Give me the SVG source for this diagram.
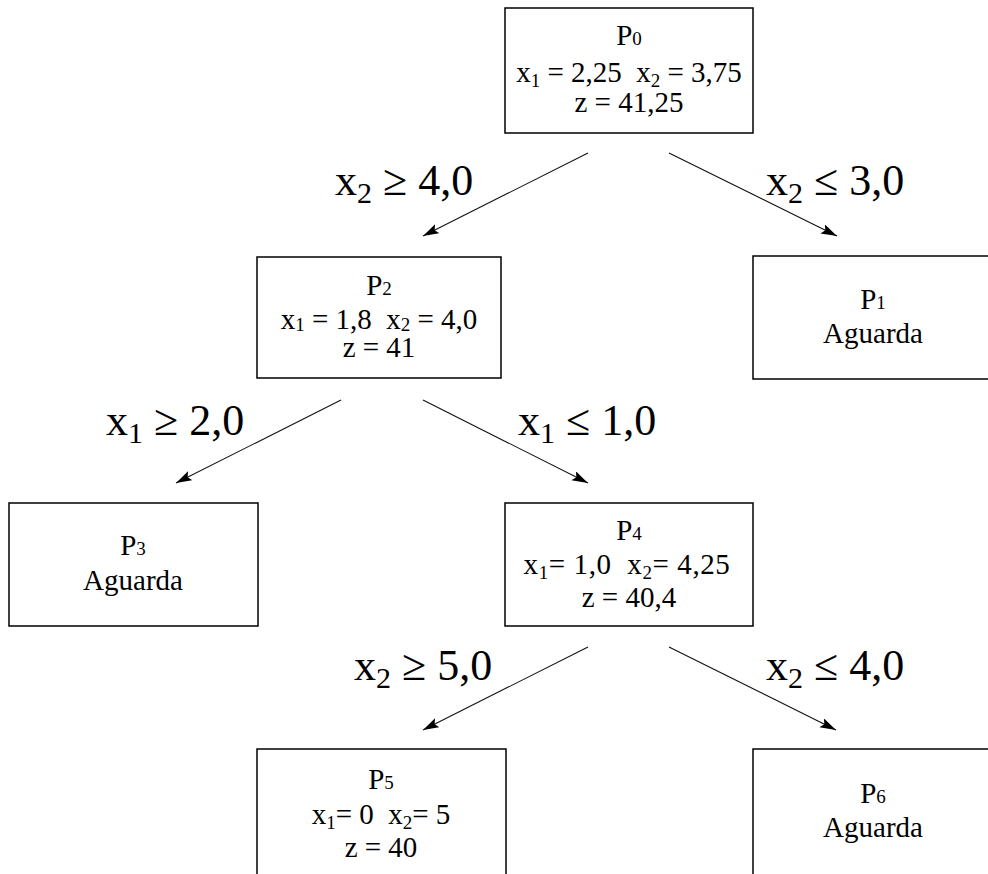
<svg xmlns="http://www.w3.org/2000/svg" width="988" height="874" viewBox="0 0 988 874">
<style>
.nd rect{fill:#fff;stroke:#000;stroke-width:1.5}
</style>
<defs>
<marker id="ah" markerUnits="userSpaceOnUse" markerWidth="18" markerHeight="12" refX="16" refY="5" orient="auto">
<path d="M0,0 L16,5 L0,10 L3,5 Z" fill="#000"/>
</marker>
</defs>
<g id="connectors" stroke="#111" stroke-width="1.1" marker-end="url(#ah)">
<line x1="588" y1="153" x2="423" y2="236"/>
<line x1="669" y1="153" x2="837" y2="236"/>
<line x1="341" y1="400" x2="176" y2="483"/>
<line x1="423" y1="400" x2="588" y2="483"/>
<line x1="588" y1="647" x2="423" y2="730"/>
<line x1="669" y1="647" x2="836" y2="730"/>
</g>
<g id="labels" font-family="Liberation Serif, serif" font-size="44" fill="#000">
<text x="335" y="195">x<tspan font-size="30" dy="8">2</tspan><tspan dy="-8"> ≥ 4,0</tspan></text>
<text x="766" y="195">x<tspan font-size="30" dy="8">2</tspan><tspan dy="-8"> ≤ 3,0</tspan></text>
<text x="106" y="435">x<tspan font-size="30" dy="8">1</tspan><tspan dy="-8"> ≥ 2,0</tspan></text>
<text x="518" y="435">x<tspan font-size="30" dy="8">1</tspan><tspan dy="-8"> ≤ 1,0</tspan></text>
<text x="354" y="680">x<tspan font-size="30" dy="8">2</tspan><tspan dy="-8"> ≥ 5,0</tspan></text>
<text x="766" y="680">x<tspan font-size="30" dy="8">2</tspan><tspan dy="-8"> ≤ 4,0</tspan></text>
</g>
<g id="nodes" class="nd" font-family="Liberation Serif, serif" font-size="29" text-anchor="middle" fill="#000">
<g id="P0">
<rect x="505" y="8" width="248" height="125"/>
<text x="629" y="45">P<tspan font-size="19">0</tspan></text>
<text x="629" y="82">x<tspan font-size="19" dy="5">1</tspan><tspan dy="-5"> = 2,25 &#160;x</tspan><tspan font-size="19" dy="5">2</tspan><tspan dy="-5"> = 3,75</tspan></text>
<text x="629" y="112">z = 41,25</text>
</g>
<g id="P2">
<rect x="257" y="257" width="244" height="121"/>
<text x="379" y="295">P<tspan font-size="19">2</tspan></text>
<text x="379" y="329">x<tspan font-size="19" dy="2">1</tspan><tspan dy="-2"> = 1,8 &#160;x</tspan><tspan font-size="19" dy="2">2</tspan><tspan dy="-2"> = 4,0</tspan></text>
<text x="379" y="357">z = 41</text>
</g>
<g id="P1">
<rect x="753" y="256" width="240" height="123"/>
<text x="873" y="309">P<tspan font-size="19">1</tspan></text>
<text x="873" y="343">Aguarda</text>
</g>
<g id="P3">
<rect x="9" y="503" width="249" height="123"/>
<text x="133" y="555">P<tspan font-size="19">3</tspan></text>
<text x="133" y="590">Aguarda</text>
</g>
<g id="P4">
<rect x="505" y="503" width="248" height="123"/>
<text x="629" y="540">P<tspan font-size="19">4</tspan></text>
<text x="627" y="574" letter-spacing="0.6">x<tspan font-size="19" dy="5">1</tspan><tspan dy="-5">= 1,0 &#160;x</tspan><tspan font-size="19" dy="5">2</tspan><tspan dy="-5">= 4,25</tspan></text>
<text x="629" y="607">z = 40,4</text>
</g>
<g id="P5">
<rect x="257" y="749" width="249" height="140"/>
<text x="381" y="789">P<tspan font-size="19">5</tspan></text>
<text x="381" y="824">x<tspan font-size="19" dy="5">1</tspan><tspan dy="-5">= 0 &#160;x</tspan><tspan font-size="19" dy="5">2</tspan><tspan dy="-5">= 5</tspan></text>
<text x="381" y="857">z = 40</text>
</g>
<g id="P6">
<rect x="753" y="749" width="240" height="140"/>
<text x="873" y="803">P<tspan font-size="19">6</tspan></text>
<text x="873" y="837">Aguarda</text>
</g>
</g>
</svg>
